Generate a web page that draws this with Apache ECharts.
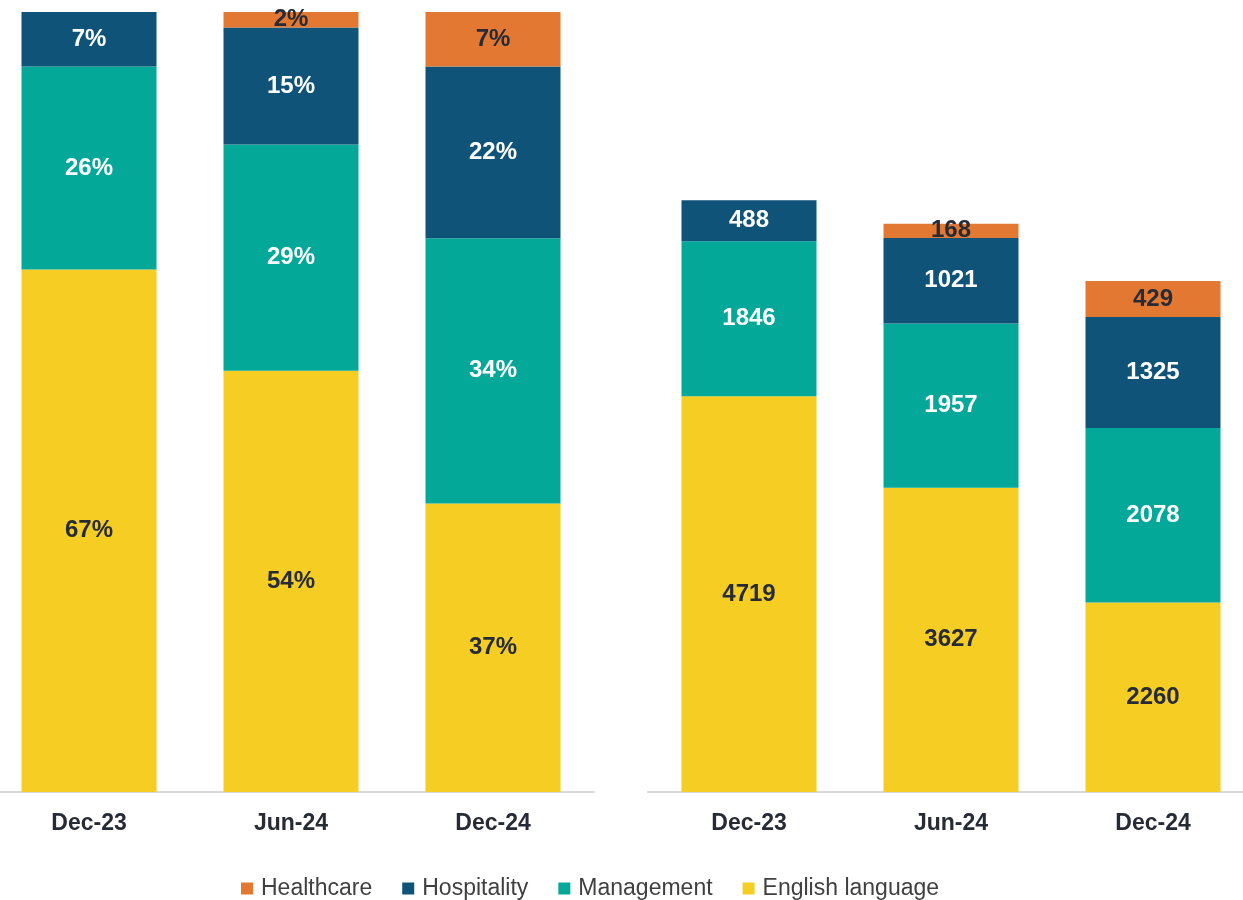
<!DOCTYPE html>
<html>
<head>
	<meta charset="utf-8">
	<title>stacked</title>
	<script src="https://cdn.jsdelivr.net/npm/echarts@6/dist/echarts.min.js"></script>
	<style>html,body{margin:0;padding:0;background:#fff;}</style>
</head>
<body>
	<div id="main" style="height: 900px; width: 1243px;"></div>
	<script type="text/javascript">
		var categories = ['Dec-23', 'Jun-24', 'Dec-24'];
		var seriesNames = ['English language', 'Management', 'Hospitality', 'Healthcare'];
		var legendOrder = ['Healthcare', 'Hospitality', 'Management', 'English language'];

		// share (%) - left chart
		var englishPct = [67, 54, 37];
		var managementPct = [26, 29, 34];
		var hospitalityPct = [7, 15, 22];
		var healthcarePct = [null, 2, 7];

		// counts - right chart
		var englishCnt = [4719, 3627, 2260];
		var managementCnt = [1846, 1957, 2078];
		var hospitalityCnt = [488, 1021, 1325];
		var healthcareCnt = [null, 168, 429];

		var colors = ['#F6CE23', '#04A898', '#0F5379', '#E27832'];
		var labelColors = ['#262B36', '#ffffff', '#ffffff', '#262B36'];
		var font = 'Arial';

		var pctData = [englishPct, managementPct, hospitalityPct, healthcarePct];
		var cntData = [englishCnt, managementCnt, hospitalityCnt, healthcareCnt];

		function mkSeries(data, idx, suffix) {
			var out = [];
			for (var i = 0; i < seriesNames.length; i++) {
				out.push({
					name: seriesNames[i],
					type: 'bar',
					stack: 's' + idx,
					xAxisIndex: idx,
					yAxisIndex: idx,
					barWidth: 135,
					data: data[i].map(function (v) { return v == null ? '-' : v; }),
					itemStyle: { color: colors[i] },
					label: {
						show: true,
						position: 'inside',
						color: labelColors[i],
						fontFamily: font,
						fontWeight: 'bold',
						fontSize: 24,
						formatter: function (p) { return p.value + suffix; }
					}
				});
			}
			return out;
		}

		var myChart = echarts.init(document.getElementById('main'));
		var xAx = function (idx) {
			return {
				type: 'category',
				gridIndex: idx,
				data: categories,
				axisTick: { show: false },
				axisLine: { lineStyle: { color: '#D9D9D9', width: 2 } },
				axisLabel: { color: '#262B36', fontFamily: font, fontWeight: 'bold', fontSize: 23, margin: 20 }
			};
		};
		var yAx = function (idx, max) {
			return {
				type: 'value',
				gridIndex: idx,
				min: 0,
				max: max,
				show: false,
				splitLine: { show: false }
			};
		};
		var option = {
			animation: false,
			color: colors,
			legend: {
				data: legendOrder,
				left: 236,
				top: 872,
				itemWidth: 12,
				itemHeight: 12,
				itemGap: 30,
				icon: 'rect',
				textStyle: { color: '#404040', fontFamily: font, fontSize: 23, padding: [0, 0, 0, 3] }
			},
			grid: [
				{ left: -12, width: 606, top: 12, bottom: 108, outerBoundsMode: 'none', containLabel: false },
				{ left: 648, width: 606, top: 37, bottom: 108, outerBoundsMode: 'none', containLabel: false }
			],
			xAxis: [xAx(0), xAx(1)],
			yAxis: [yAx(0, 100), yAx(1, 9000)],
			series: mkSeries(pctData, 0, '%').concat(mkSeries(cntData, 1, ''))
		};
		myChart.setOption(option);
	</script>
</body>
</html>
